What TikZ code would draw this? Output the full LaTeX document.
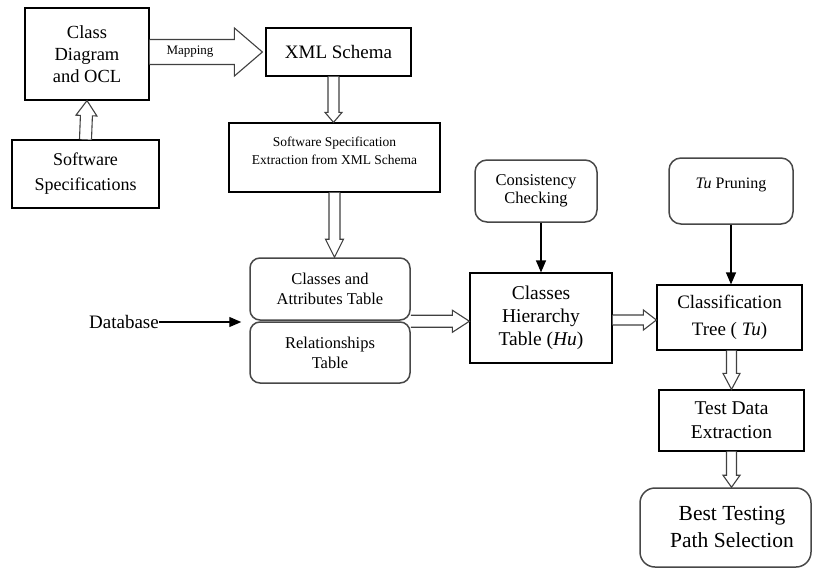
\documentclass[tikz,border=0pt]{standalone}
\usepackage{fontspec}
\setmainfont{LiberationSerif}[
  Extension=.ttf,
  UprightFont=*-Regular,
  ItalicFont=*-Italic,
  BoldFont=*-Bold,
  BoldItalicFont=*-BoldItalic]
\usetikzlibrary{calc,arrows.meta}

% font size / baseline skip shortcut
\newcommand\fsz[2]{\fontsize{#1}{#2}\selectfont}

% block arrow: {start}{tip}{half shaft width}{half head width}{head length}
\newcommand\hollowarrow[5]{%
  \path ($(#2)!#5!(#1)$) coordinate (ha-neck);
  \draw[hollow]
    ($(#1)!#3!90:(#2)$) -- ($(ha-neck)!#3!90:(#2)$) --
    ($(ha-neck)!#4!90:(#2)$) -- (#2) --
    ($(ha-neck)!#4!-90:(#2)$) -- ($(ha-neck)!#3!-90:(#2)$) --
    ($(#1)!#3!-90:(#2)$);
}

\begin{document}
\begin{tikzpicture}[x=1pt,y=-1pt,
  plainbox/.style={draw=black, line width=1.2pt, inner sep=0pt, align=center},
  roundbox/.style={plainbox, draw=black!72, line width=1.5pt, rounded corners=10pt},
  hollow/.style={draw=black!75, line width=1.1pt, fill=white, line join=miter},
  thinarrow/.style={line width=1.2pt, -{Triangle[length=12pt,width=10pt]}},
  label/.style={inner sep=0pt, align=center}]

\useasboundingbox (0,0) rectangle (813,568);

% ---- left column ----
\node[plainbox, minimum width=124pt, minimum height=92pt, font=\fsz{18.5}{22}]
  (cdo) at (87,54) {Class\\Diagram\\and OCL};
\node[plainbox, minimum width=147pt, minimum height=68pt, font=\fsz{18}{25}]
  (ss) at (85.5,174) {Software\\Specifications};

% ---- XML branch ----
\node[plainbox, minimum width=145pt, minimum height=48pt, font=\fsz{19}{23}]
  (xml) at (338.5,52) {XML Schema};
\node[plainbox, minimum width=211pt, minimum height=69pt] (ext) at (334.5,157.5) {};
\node[label, font=\fsz{13.5}{18}] (exttext) at (334.5,151)
  {Software Specification\\Extraction from XML Schema};

% ---- tables ----
\node[roundbox, minimum width=160pt, minimum height=62pt, font=\fsz{16.5}{20}]
  (cat) at (330,289) {Classes and\\Attributes Table};
\node[roundbox, minimum width=160pt, minimum height=61pt, font=\fsz{16.5}{20}]
  (rel) at (330,352.5) {Relationships\\Table};
\node[label, font=\fsz{19}{23}] (db) at (124,322) {Database};

% ---- hierarchy ----
\node[roundbox, rounded corners=12pt, minimum width=122pt, minimum height=62pt,
  font=\fsz{16.5}{18.5}] (cons) at (536,191) {Consistency\\Checking};
\node[plainbox, minimum width=142pt, minimum height=90pt, font=\fsz{19.5}{23}]
  (hu) at (541,318) {Classes\\Hierarchy\\Table (\textit{Hu})};

% ---- classification tree column ----
\node[roundbox, rounded corners=12pt, minimum width=124pt, minimum height=66pt]
  (tup) at (731,191) {};
\node[label, font=\fsz{16}{19}] (tuptext) at (731,185) {\textit{Tu} Pruning};
\node[plainbox, minimum width=145pt, minimum height=65pt, font=\fsz{19}{27}]
  (tree) at (729.5,317.5) {Classification\\Tree ( \textit{Tu})};
\node[plainbox, minimum width=145pt, minimum height=61pt, font=\fsz{19.5}{24}]
  (test) at (731.5,420.5) {Test Data\\Extraction};
\node[roundbox, rounded corners=15pt, minimum width=171pt, minimum height=79pt]
  (best) at (725.5,527.5) {};
\node[label, font=\fsz{21.5}{27}] (besttext) at (732,527)
  {Best Testing\\Path Selection};

% ---- block arrows ----
\coordinate (mapS) at (cdo.east |- xml.west);
\coordinate (mapE) at ([xshift=-3pt]xml.west);
\hollowarrow{mapS}{mapE}{12.5pt}{24pt}{28pt}
\node[label, font=\fsz{13}{15}] (maplabel) at (190,52) {Mapping};

\hollowarrow{ss.north}{cdo.south}{6pt}{10.5pt}{15pt}

\coordinate (xs) at ([xshift=-5pt]xml.south);
\coordinate (xe) at (xs |- ext.north);
\hollowarrow{xs}{xe}{5.5pt}{8.5pt}{10pt}

\coordinate (ee) at (ext.south |- cat.north);
\hollowarrow{ext.south}{ee}{5.5pt}{9pt}{18pt}

\coordinate (ts) at (rel.north east);
\coordinate (te) at (ts -| hu.west);
\hollowarrow{ts}{te}{6pt}{11pt}{17pt}

\coordinate (hs) at ([yshift=-2pt]hu.east);
\coordinate (he) at (hs -| tree.west);
\hollowarrow{hs}{he}{5pt}{10pt}{13pt}

\coordinate (trs) at (test.north |- tree.south);
\hollowarrow{trs}{test.north}{5pt}{8.5pt}{16pt}

\coordinate (tbe) at (test.south |- best.north);
\hollowarrow{test.south}{tbe}{5pt}{8.5pt}{12pt}

% ---- plain arrows ----
\draw[thinarrow, shorten >=8pt] (db.east) -- (db.east -| rel.west);
\draw[thinarrow] (hu.north |- cons.south) -- (hu.north);
\draw[thinarrow] (tup.south) -- (tup.south |- tree.north);

\end{tikzpicture}
\end{document}
